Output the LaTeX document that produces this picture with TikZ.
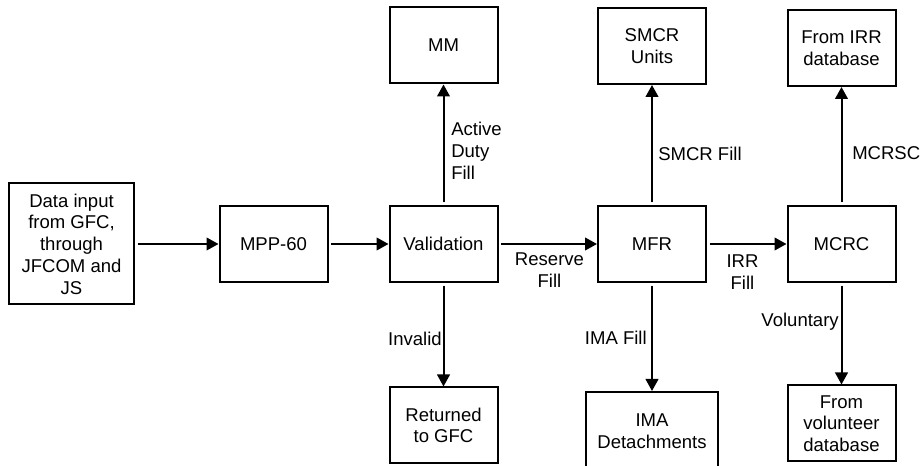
\documentclass[tikz,border=0pt]{standalone}
\usepackage{fontspec}
\setmainfont{Liberation Sans}
\usetikzlibrary{arrows.meta,positioning}

\begin{document}
\begin{tikzpicture}[x=0.75pt,y=-0.75pt,>={Triangle[length=9pt,width=9.5pt]},font=\fontsize{13.9}{16.3}\selectfont,
    box/.style={draw,line width=1.5pt,inner sep=0pt,align=center,minimum width=81pt,minimum height=57pt},
    lbl/.style={inner sep=0pt,align=center},
    flow/.style={->,line width=1.5pt,shorten <=2pt}]
    \useasboundingbox (0,0) rectangle (922,466);

    \node[box,minimum width=93.75pt,minimum height=90.75pt] (in) at (71.5,244) {Data input\\from GFC,\\through\\JFCOM and\\JS};
    \node[box] (mpp) at (273.5,244) {MPP-60};
    \node[box] (val) at (443.5,244) {Validation};
    \node[box] (mm) at (443.5,45.5) {MM};
    \node[box] (ret) at (443.5,425.5) {Returned\\to GFC};

    \node[box] (mfr) at (652,244) {MFR};
    \node[box] (smcr) at (652,46) {SMCR\\Units};
    \node[box,minimum width=99pt,minimum height=58.5pt] (ima) at (652,431) {IMA\\Detachments};

    \node[box] (mcrc) at (841.5,244) {MCRC};
    \node[box] (irr) at (841.5,48) {From IRR\\database};
    \node[box] (vol) at (841.5,423.5) {From\\volunteer\\database};

    \draw[flow] (in) -- (mpp);
    \draw[flow] (mpp) -- (val);
    \draw[flow] (val) -- (mfr);
    \draw[flow] (mfr) -- (mcrc);
    \draw[flow] (val) -- (mm);
    \draw[flow] (val) -- (ret);
    \draw[flow] (mfr) -- (smcr);
    \draw[flow] (mfr) -- (ima);
    \draw[flow] (mcrc) -- (irr);
    \draw[flow] (mcrc) -- (vol);

    \node[lbl,anchor=west,align=left] (lad) at (451,151) {Active\\Duty\\Fill};
    \node[lbl,anchor=east] (linv) at (442,339) {Invalid};
    \node[lbl] (lres) at (549.5,270) {Reserve\\Fill};
    \node[lbl,anchor=west] (lsmcr) at (658,153.5) {SMCR Fill};
    \node[lbl,anchor=east] (lima) at (647,338) {IMA Fill};
    \node[lbl] (lirr) at (742.5,272) {IRR\\Fill};
    \node[lbl,anchor=west] (lmcrsc) at (852,153.5) {MCRSC};
    \node[lbl,anchor=east] (lvol) at (839,322) {Voluntary};
  \end{tikzpicture}
\end{document}
